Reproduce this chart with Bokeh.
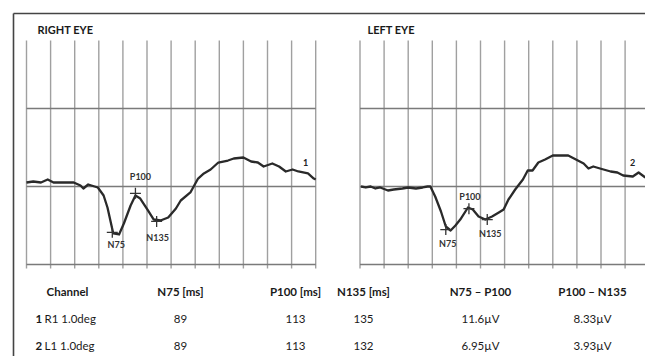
import numpy as np
from bokeh.plotting import figure
from bokeh.models import Range1d, ColumnDataSource
from bokeh.core.properties import value
from bokeh.embed import file_html
from bokeh.resources import INLINE

# ---------------- data ----------------
grid_ms = [0, 25, 50, 75, 100, 125, 150, 175, 200, 225, 250, 275, 300]
grid_uv = [-25, 0, 25]

right_t = [0, 7, 15, 22, 28, 35, 49, 56, 59, 64, 74, 80, 84, 87, 90, 96, 101, 108, 113, 118,
           126, 132, 139, 147, 155, 160, 170, 178, 184, 191, 199, 209, 215, 225, 233, 240,
           246, 255, 262, 269, 276, 282, 292, 298, 300]
right_v = [1.28, 1.60, 1.28, 2.24, 1.28, 1.28, 1.28, 0.32, -0.64, 0.64, -0.32, -2.88, -6.73,
           -10.9, -15.06, -15.38, -11.86, -6.09, -2.88, -3.85, -7.69, -10.58, -10.9, -9.94,
           -7.05, -4.49, -1.92, 2.56, 4.17, 5.45, 7.69, 8.33, 8.97, 9.29, 8.01, 7.69, 6.41,
           7.37, 6.41, 4.81, 5.45, 4.81, 4.17, 2.56, 2.24]

left_t = [1, 6, 11, 16, 21, 29, 35, 44, 50, 58, 65, 70, 73, 78, 84, 89, 94, 99, 104, 112,
          117, 123, 130, 137, 144, 149, 154, 161, 169, 174, 179, 185, 192, 200, 208, 216,
          226, 232, 237, 242, 249, 260, 267, 273, 283, 289, 296]
left_v = [0, -0.32, 0, -0.64, -0.32, -1.28, -0.96, -0.64, -0.32, -0.64, -0.32, 0, 0, -3.2,
          -8.01, -12.82, -14.1, -12.5, -10.58, -6.73, -7.37, -9.62, -10.58, -9.62, -8.33,
          -7.37, -4.17, -0.96, 2.24, 5.13, 5.13, 7.69, 8.65, 9.94, 9.94, 9.94, 8.33, 7.37,
          5.77, 6.41, 5.77, 4.81, 4.49, 3.53, 3.21, 4.49, 2.88]

peak_names = ["N75", "P100", "N135"]
right_peak_ms = [89, 113, 135]
right_peak_uv = [-14.7, -2.2, -11.2]
left_peak_ms = [89, 113, 132]
left_peak_uv = [-13.8, -7.1, -10.6]

panel_titles = ["RIGHT EYE", "LEFT EYE"]
trace_ids = ["1", "2"]

table_header = ["Channel", "N75 [ms]", "P100 [ms]", "N135 [ms]", "N75 \u2013 P100", "P100 \u2013 N135"]
channel_nums = ["1", "2"]
channel_names = ["R1 1.0deg", "L1 1.0deg"]
n75_ms = [89, 89]
p100_ms = [113, 113]
n135_ms = [135, 132]
n75_p100 = ["11.6\u00b5V", "6.95\u00b5V"]
p100_n135 = ["8.33\u00b5V", "3.93\u00b5V"]

# ---------------- layout ----------------
W, H = 645, 356
OX, OY = 0, 0
K = 24.1 / 25.0          # px per ms
KV = 3.12                # px per uV
R_X0, L_X0, Y0 = 26.0, 359.5, 186.0

def sx(px):
    return (px - R_X0) / K

def sxl(px):
    return (px - L_X0) / K

def sy(py):
    return (Y0 - py) / KV

p = figure(width=W, height=H,
           x_range=Range1d(sx(OX), sx(OX + W)),
           y_range=Range1d(sy(OY + H), sy(OY)),
           min_border=0, toolbar_location=None, output_backend="svg",
           x_axis_location=None, y_axis_location=None)
p.extra_x_ranges = {"left": Range1d(sxl(OX), sxl(OX + W))}
p.outline_line_color = None
p.grid.visible = False
p.background_fill_color = "white"
p.border_fill_color = "white"

FONT = value("Lato")
INK = "#2a2a2a"

# frame lines
p.segment(x0=[sx(13), sx(13)], y0=[sy(13), sy(13)], x1=[sx(660), sx(13)], y1=[sy(13), sy(400)],
          line_color="#444444", line_width=1.6)

g_top, g_bot = sy(40), sy(268)
for rn in ["default", "left"]:
    p.segment(x0=grid_ms, x1=grid_ms, y0=[g_top] * len(grid_ms), y1=[g_bot] * len(grid_ms),
              line_color="#a0a0a0", line_width=1.4, x_range_name=rn)
    p.segment(x0=[grid_ms[0]] * len(grid_uv), x1=[grid_ms[-1]] * len(grid_uv),
              y0=grid_uv, y1=grid_uv, line_color="#7a7a7a", line_width=1.3, x_range_name=rn)

# traces
p.line(right_t, right_v, line_color=INK, line_width=2.3, line_join="round")
p.line(left_t, left_v, line_color=INK, line_width=2.3, line_join="round", x_range_name="left")

# peak markers and labels
r_off = [(4, 12), (5, -17), (1, 16)]
l_off = [(2, 14), (1, -12), (3, 14)]
for t, v, off, rn in [(right_peak_ms, right_peak_uv, r_off, "default"),
                      (left_peak_ms, left_peak_uv, l_off, "left")]:
    p.scatter(t, v, marker="cross", size=11, line_color="#333333", line_width=1.3,
              x_range_name=rn)
    src = ColumnDataSource(dict(x=t, y=v, text=peak_names,
                                xo=[o[0] for o in off], yo=[o[1] for o in off]))
    p.text(x="x", y="y", text="text", x_offset="xo", y_offset="yo", source=src,
           text_font=FONT, text_font_size="9px", text_font_style="bold",
           text_align="center", text_baseline="middle", text_color="#333333",
           x_range_name=rn)

# trace ids
p.text(x=[sx(305)], y=[sy(162)], text=[trace_ids[0]], text_font=FONT, text_font_size="9px",
       text_font_style="bold", text_align="center", text_baseline="middle", text_color="#222222")
p.text(x=[sx(632)], y=[sy(162)], text=[trace_ids[1]], text_font=FONT, text_font_size="9px",
       text_font_style="bold", text_align="center", text_baseline="middle", text_color="#222222")

# titles
p.text(x=[sx(37), sx(367)], y=[sy(29), sy(29)], text=panel_titles, text_font=FONT,
       text_font_size="11px", text_font_style="bold", text_align="left",
       text_baseline="middle", text_color="#1a1a1a")

# table
col_x = [67, 180, 295, 363, 480, 592]
row_y = [291, 318, 345]
p.text(x=[sx(c) for c in col_x], y=[sy(row_y[0])] * len(col_x), text=table_header,
       text_font=FONT, text_font_size="11.5px", text_font_style="bold", text_align="center",
       text_baseline="middle", text_color="#1a1a1a")
for i in range(2):
    yy = sy(row_y[i + 1])
    p.text(x=[sx(35)], y=[yy], text=[channel_nums[i]], text_font=FONT, text_font_size="11.5px",
           text_font_style="bold", text_align="left", text_baseline="middle", text_color="#1a1a1a")
    p.text(x=[sx(44)], y=[yy], text=[channel_names[i]], text_font=FONT, text_font_size="11.5px",
           text_align="left", text_baseline="middle", text_color="#1a1a1a")
    vals = [str(n75_ms[i]), str(p100_ms[i]), str(n135_ms[i]), n75_p100[i], p100_n135[i]]
    p.text(x=[sx(c) for c in col_x[1:]], y=[yy] * 5, text=vals, text_font=FONT,
           text_font_size="11.5px", text_align="center", text_baseline="middle",
           text_color="#1a1a1a")

open("out.html", "w").write(file_html(p, INLINE))
